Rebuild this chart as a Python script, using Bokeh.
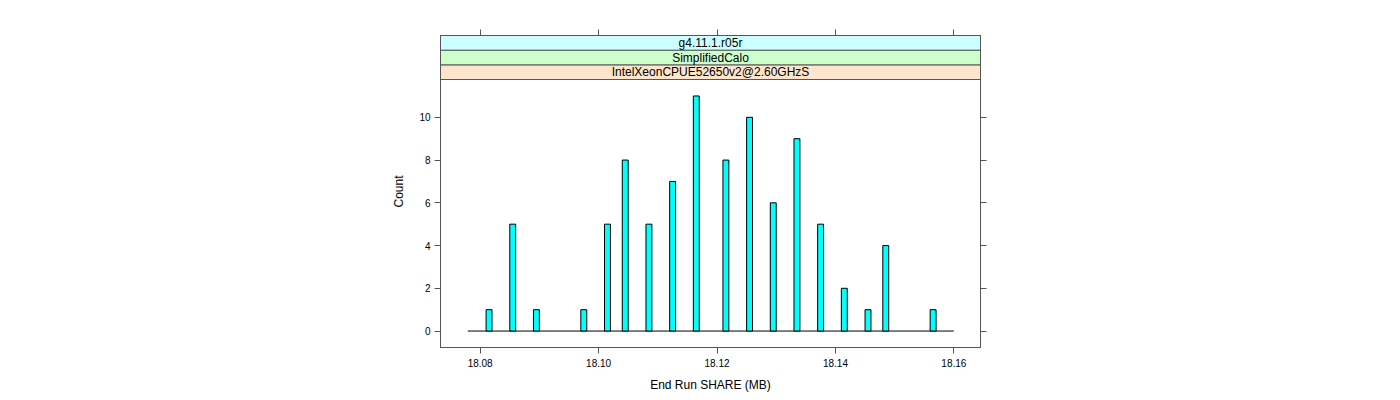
from bokeh.plotting import figure
from bokeh.models import Range1d, LinearAxis, FixedTicker, ColumnDataSource
from bokeh.core.properties import value
from bokeh.embed import file_html
from bokeh.resources import INLINE

# ---- data ----
bin_centers = [18.0815, 18.0855, 18.0895, 18.0975, 18.1015, 18.1045, 18.1085,
               18.1125, 18.1165, 18.1215, 18.1255, 18.1295, 18.1335, 18.1375,
               18.1415, 18.1455, 18.1485, 18.1565]
counts = [1, 5, 1, 1, 5, 8, 5, 7, 11, 8, 10, 6, 9, 5, 2, 1, 4, 1]
bin_width = 0.001
break_range = [18.0779, 18.1600]
x_ticks = [18.08, 18.10, 18.12, 18.14, 18.16]
x_tick_labels = ["18.08", "18.10", "18.12", "18.14", "18.16"]
y_ticks = [0, 2, 4, 6, 8, 10]
strip_labels = ["IntelXeonCPUE52650v2@2.60GHzS", "SimplifiedCalo", "g4.11.1.r05r"]
strip_colors = ["#FFE5CC", "#CCFFCC", "#CCFFFF"]
x_label = "End Run SHARE (MB)"
y_label = "Count"

# ---- layout constants ----
FRAME_W, FRAME_H = 540, 312
DATA_PX = 268            # height of the data panel below the strips
STRIP_PX = FRAME_H - DATA_PX
FONT = "Liberation Sans"
BORDER = "#555555"

ymax = max(counts)
y_lo = -0.07 * ymax
y_hi = ymax * 1.07
units_per_px = (y_hi - y_lo) / DATA_PX
strip_h = STRIP_PX * units_per_px / len(strip_labels)
y_top = y_hi + STRIP_PX * units_per_px

x_lo, x_hi = 18.0733, 18.1645

p = figure(x_range=Range1d(x_lo, x_hi), y_range=Range1d(y_lo, y_top),
           frame_width=FRAME_W, frame_height=FRAME_H,
           min_border_left=440, min_border_top=35, min_border_right=400,
           min_border_bottom=45,
           output_backend="svg", toolbar_location=None,
           background_fill_color="white", border_fill_color="white")
p.grid.visible = False
p.outline_line_color = BORDER
p.outline_line_width = 1

# histogram bars
src = ColumnDataSource(dict(
    left=[c - bin_width / 2 for c in bin_centers],
    right=[c + bin_width / 2 for c in bin_centers],
    top=counts,
    bottom=[0] * len(counts)))
p.segment(x0=[break_range[0]], y0=[0], x1=[break_range[1]], y1=[0],
          line_color="black", line_width=1)
p.quad(left="left", right="right", top="top", bottom="bottom", source=src,
       fill_color="#00FFFF", line_color="black", line_width=1)

# strips
n = len(strip_labels)
sb = [y_hi + i * strip_h for i in range(n)]
st = [y_hi + (i + 1) * strip_h for i in range(n)]
ssrc = ColumnDataSource(dict(bottom=sb, top=st, color=strip_colors,
                             label=strip_labels,
                             y=[(a + b) / 2 for a, b in zip(sb, st)],
                             x=[(x_lo + x_hi) / 2] * n))
p.quad(left=x_lo, right=x_hi, bottom="bottom", top="top", fill_color="color",
       line_color=BORDER, line_width=1, source=ssrc)
p.text(x="x", y="y", text="label", source=ssrc, text_align="center",
       text_baseline="middle", text_font=value(FONT), text_font_size="12px",
       text_color="black")


def style_axis(ax):
    ax.axis_line_color = BORDER
    ax.major_tick_line_color = BORDER
    ax.major_tick_in = 0
    ax.major_tick_out = 6
    ax.minor_tick_line_color = None
    ax.major_label_text_font = FONT
    ax.major_label_text_font_size = "10px"
    ax.major_label_text_color = "black"
    ax.axis_label_text_font = FONT
    ax.axis_label_text_font_size = "12px"
    ax.axis_label_text_font_style = "normal"
    ax.axis_label_text_color = "black"


xb = p.xaxis[0]
xb.ticker = FixedTicker(ticks=x_ticks)
xb.major_label_overrides = {t: l for t, l in zip(x_ticks, x_tick_labels)}
style_axis(xb)
xb.major_label_standoff = 5
xb.axis_label = x_label
xb.axis_label_standoff = 8

yl = p.yaxis[0]
yl.ticker = FixedTicker(ticks=y_ticks)
style_axis(yl)
yl.major_label_standoff = 4
yl.axis_label = y_label
yl.axis_label_standoff = 10

# tick-only axes on top and right (lattice style)
xt = LinearAxis(ticker=FixedTicker(ticks=x_ticks),
                major_label_overrides={t: "" for t in x_ticks})
style_axis(xt)
p.add_layout(xt, "above")

yr = LinearAxis(ticker=FixedTicker(ticks=y_ticks),
                major_label_overrides={t: "" for t in y_ticks})
style_axis(yr)
p.add_layout(yr, "right")

open("out.html", "w").write(file_html(p, INLINE))
